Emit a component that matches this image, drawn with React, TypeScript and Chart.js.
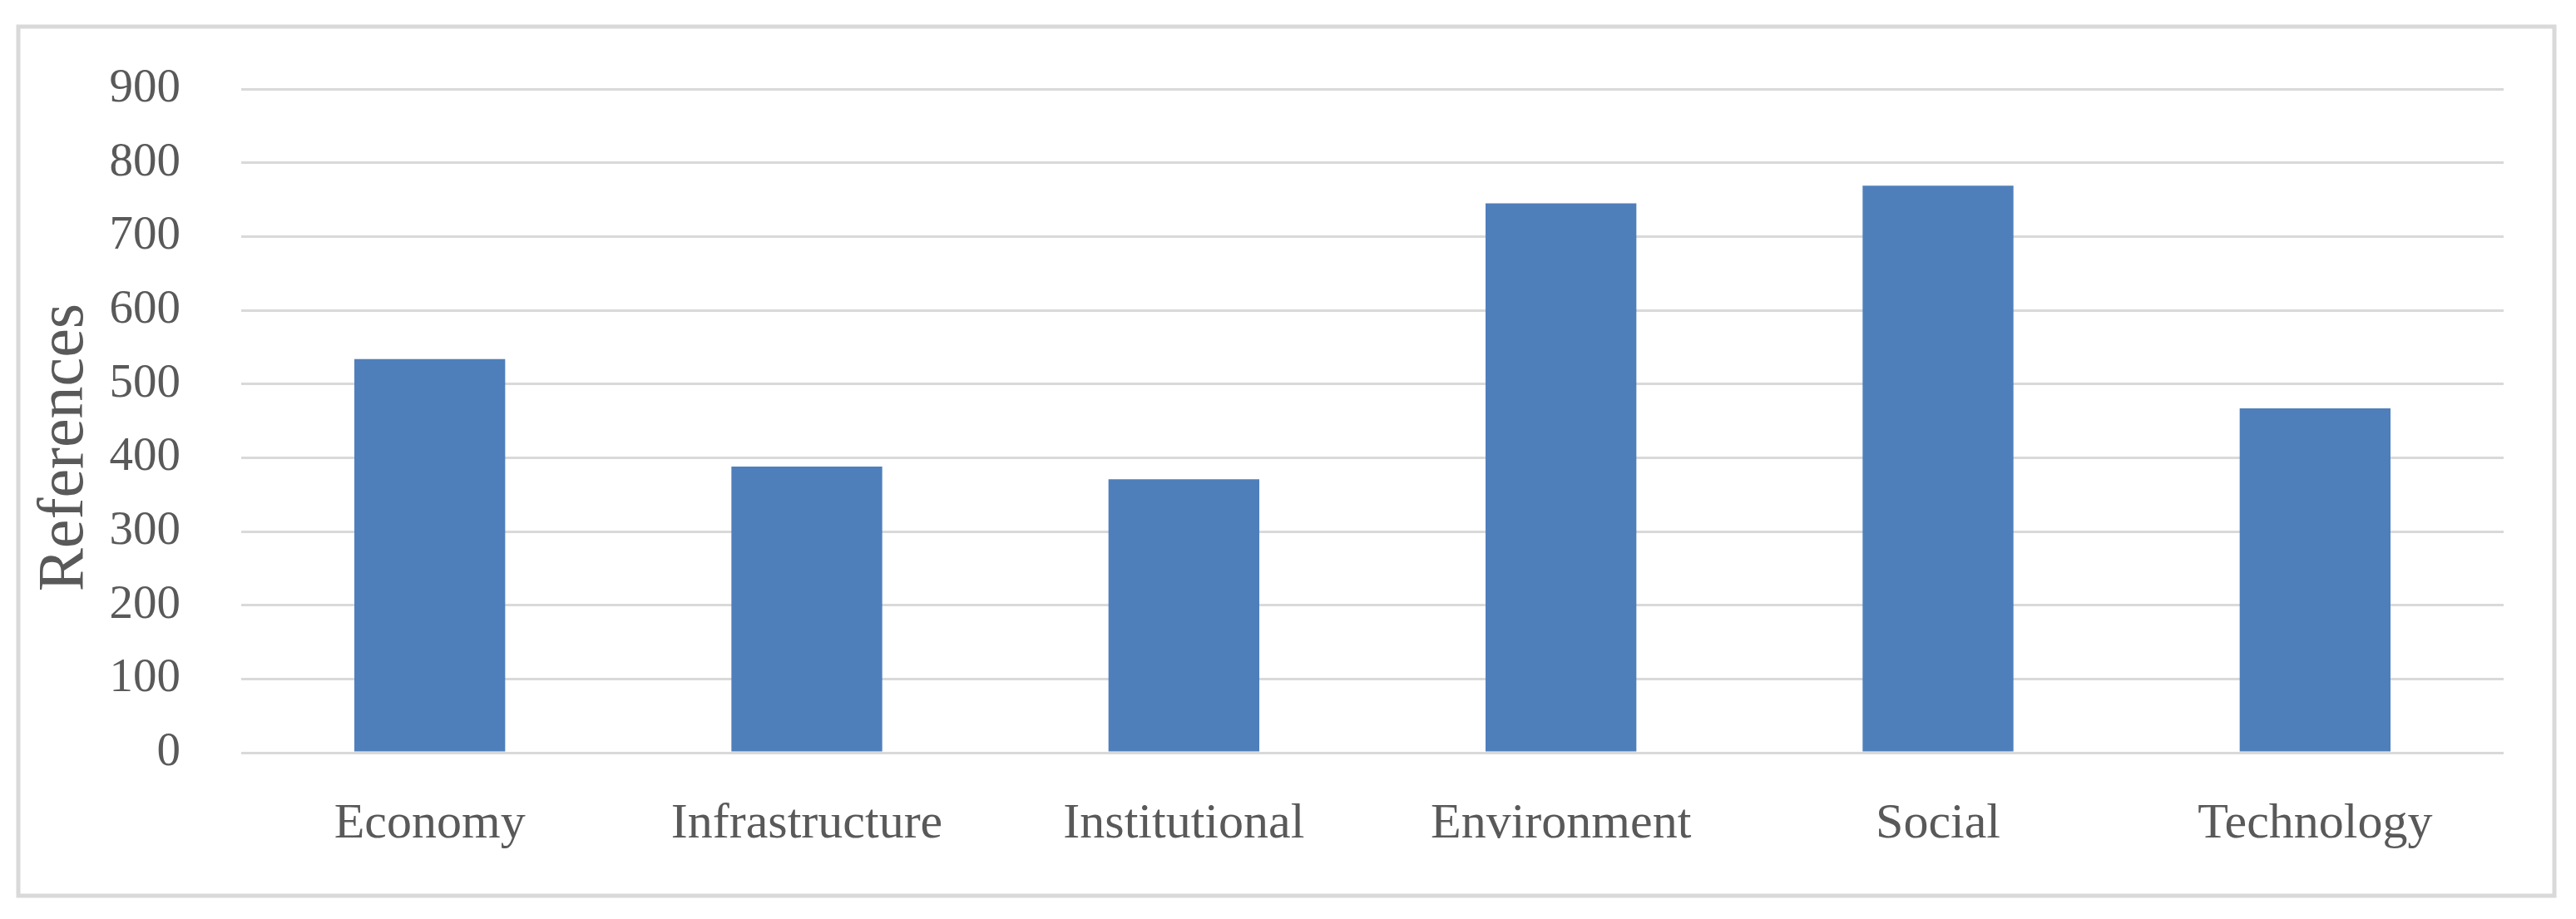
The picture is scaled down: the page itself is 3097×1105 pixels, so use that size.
import React, { useEffect, useRef } from "react";
import { Chart, registerables } from "chart.js";

Chart.register(...registerables);

const categories = ["Economy", "Infrastructure", "Institutional", "Environment", "Social", "Technology"];
const references = [534, 388, 371, 745, 769, 467];
const yMin = 0;
const yMax = 900;
const yStep = 100;
const yAxisTitle = "References";

const FONT = "'Liberation Serif', 'DejaVu Serif', serif";
const TEXT = "#595959";
const GRID = "#d9d9d9";
const BAR = "#4f7fbb";

const framePlugin = {
  id: "frame",
  beforeDraw(chart: any) {
    const ctx = chart.ctx;
    ctx.save();
    ctx.fillStyle = "#ffffff";
    ctx.fillRect(0, 0, chart.width, chart.height);
    ctx.strokeStyle = GRID;
    ctx.lineWidth = 5;
    ctx.strokeRect(22, 32, 3049, 1045);
    ctx.restore();
  },
  afterDraw(chart: any) {
    const ctx = chart.ctx;
    ctx.save();
    ctx.translate(79, 538);
    ctx.rotate(-Math.PI / 2);
    ctx.fillStyle = TEXT;
    ctx.font = `78px ${FONT}`;
    ctx.textAlign = "center";
    ctx.textBaseline = "middle";
    ctx.fillText(yAxisTitle, 0, 0);
    ctx.restore();
  },
};

export default function App() {
  const ref = useRef<HTMLCanvasElement>(null);
  useEffect(() => {
    document.body.style.margin = "0";
    const canvas = ref.current!;
    const chart = new Chart(canvas, {
      type: "bar",
      data: {
        labels: categories,
        datasets: [
          {
            label: yAxisTitle,
            data: references,
            backgroundColor: BAR,
            borderWidth: 0,
            barPercentage: 0.4,
            categoryPercentage: 1,
          },
        ],
      },
      options: {
        animation: false,
        responsive: false,
        maintainAspectRatio: false,
        layout: { padding: { left: 0, right: 87, top: 103, bottom: 0 } },
        plugins: { legend: { display: false }, tooltip: { enabled: false } },
        scales: {
          x: {
            grid: { display: false, drawTicks: false },
            border: { display: false },
            ticks: { color: TEXT, font: { family: FONT, size: 60 }, padding: 50, maxRotation: 0, autoSkip: false },
            afterFit: (s: any) => {
              s.height = 1105 - 905;
            },
          },
          y: {
            min: yMin,
            max: yMax,
            grid: { color: GRID, lineWidth: 3, drawTicks: false },
            border: { display: false },
            ticks: { stepSize: yStep, color: TEXT, font: { family: FONT, size: 57 }, padding: 73 },
            afterFit: (s: any) => {
              s.width = 290;
            },
          },
        },
      },
      plugins: [framePlugin],
    });
    return () => chart.destroy();
  }, []);
  return <canvas ref={ref} width={3097} height={1105} style={{ display: "block", width: 3097, height: 1105 }} />;
}
